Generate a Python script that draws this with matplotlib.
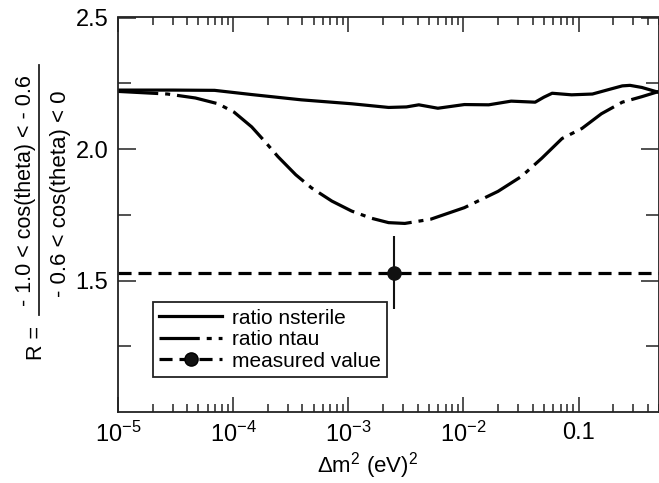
import numpy as np
import matplotlib
matplotlib.use('Agg')
from matplotlib import pyplot as plt
from matplotlib.lines import Line2D
from matplotlib.ticker import FixedLocator, FixedFormatter, LogLocator, NullFormatter

plt.rcParams['font.family'] = ['Liberation Sans', 'DejaVu Sans']
plt.rcParams['mathtext.fontset'] = 'custom'
plt.rcParams['mathtext.rm'] = 'Liberation Sans'
plt.rcParams['lines.scale_dashes'] = False

# values
dm2_sterile = [1.0e-5, 3.0e-5, 6.9e-5, 1.45e-4, 3.9e-4, 1.07e-3, 2.24e-3, 3.2e-3,
               4.1e-3, 6.0e-3, 1.02e-2, 1.66e-2, 2.6e-2, 4.2e-2, 5.0e-2, 5.9e-2,
               8.7e-2, 0.132, 0.19, 0.24, 0.28, 0.355, 0.5]
r_sterile = [2.224, 2.224, 2.223, 2.207, 2.187, 2.172, 2.158, 2.160,
             2.168, 2.155, 2.169, 2.168, 2.182, 2.178, 2.197, 2.212,
             2.206, 2.209, 2.228, 2.24, 2.242, 2.234, 2.215]

dm2_tau = [1.0e-5, 2.7e-5, 4.7e-5, 7.4e-5, 1.02e-4, 1.45e-4, 1.9e-4, 2.45e-4,
           3.5e-4, 4.8e-4, 7.2e-4, 1.07e-3, 1.58e-3, 2.24e-3, 3.1e-3, 5.2e-3,
           1.02e-2, 2.0e-2, 3.2e-2, 4.8e-2, 7.2e-2, 0.107, 0.158, 0.24,
           0.355, 0.5]
r_tau = [2.219, 2.209, 2.194, 2.172, 2.14, 2.084, 2.027, 1.971,
         1.902, 1.852, 1.802, 1.764, 1.737, 1.72, 1.717, 1.733,
         1.777, 1.839, 1.896, 1.965, 2.04, 2.078, 2.134, 2.178,
         2.199, 2.219]

dm2_meas = 2.5e-3
r_meas = 1.53
r_err = 0.14

xtick_vals = [1e-5, 1e-4, 1e-3, 1e-2, 1e-1]
xtick_labels = [r'$\mathregular{10^{-5}}$', r'$\mathregular{10^{-4}}$',
                r'$\mathregular{10^{-3}}$', r'$\mathregular{10^{-2}}$', '0.1']
ytick_vals = [1.5, 2.0, 2.5]
ytick_minor = [1.25, 1.75, 2.25]

W, H = 659, 483
fig = plt.figure(figsize=(W / 100, H / 100), dpi=100)
ax = fig.add_axes([118 / W, 71 / H, 541 / W, 394.5 / H])

lw = 2.3
tau_ls = (0, (29, 5, 3.6, 5))
meas_ls = (0, (9.4, 5))
ax.plot(dm2_sterile, r_sterile, color='black', lw=lw)
ax.plot(dm2_tau, r_tau, color='black', lw=lw, ls=tau_ls)
ax.axhline(r_meas, color='black', lw=lw, ls=meas_ls)
ax.errorbar([dm2_meas], [r_meas], yerr=[r_err], fmt='o', color='#111111',
            ms=9.5, elinewidth=1.5, capsize=0, zorder=5)

ax.set_xscale('log')
ax.set_xlim(1e-5, 0.5)
ax.set_ylim(1.0, 2.5)

ax.xaxis.set_major_locator(FixedLocator(xtick_vals))
ax.xaxis.set_major_formatter(FixedFormatter(xtick_labels))
ax.xaxis.set_minor_locator(LogLocator(base=10, subs=np.arange(2, 10)))
ax.xaxis.set_minor_formatter(NullFormatter())
ax.yaxis.set_major_locator(FixedLocator(ytick_vals))
ax.yaxis.set_minor_locator(FixedLocator(ytick_minor))
ax.set_yticklabels([f'{v:.1f}' for v in ytick_vals])

ax.tick_params(axis='both', which='both', direction='in', top=True, right=True,
               width=1.1, labelsize=17, color='#222222')
ax.tick_params(axis='x', which='major', length=11, pad=7)
ax.tick_params(axis='x', which='minor', length=6)
ax.tick_params(axis='y', which='major', length=13, pad=7)
ax.tick_params(axis='y', which='minor', length=9.5)
for s in ax.spines.values():
    s.set_linewidth(1.3)
    s.set_color('#222222')

handles = [Line2D([], [], color='black', lw=lw),
           Line2D([], [], color='black', lw=lw, ls=tau_ls),
           Line2D([], [], color='black', lw=lw, ls=meas_ls, marker='o',
                  ms=9.5, markerfacecolor='#111111')]
leg = ax.legend(handles, ['ratio nsterile', 'ratio ntau', 'measured value'],
                loc='lower left', bbox_to_anchor=(0.065, 0.089), borderaxespad=0,
                fontsize=15, handlelength=3.0, handletextpad=0.5, labelspacing=0.12,
                borderpad=0.3, fancybox=False, framealpha=1, edgecolor='#222222')
leg.get_frame().set_linewidth(1.3)

# x label
fig.text(368 / W, 1 - 466 / H, r'$\Delta$m$^\mathregular{2}$ (eV)$^\mathregular{2}$',
         ha='center', va='center', fontsize=16)

# y label as a fraction
fig.text(26 / W, 1 - 191 / H, '- 1.0 < cos(theta) < - 0.6', rotation=90,
         ha='center', va='center', fontsize=15.5)
fig.text(61 / W, 1 - 194 / H, '- 0.6 < cos(theta) < 0', rotation=90,
         ha='center', va='center', fontsize=16)
fig.add_artist(Line2D([39 / W, 39 / W], [1 - 65 / H, 1 - 315 / H],
                      transform=fig.transFigure, color='#222222', lw=1.3))
fig.text(37 / W, 1 - 343 / H, 'R =', rotation=90, ha='center', va='center',
         fontsize=15.5)

fig.savefig('out.png', dpi=100)
